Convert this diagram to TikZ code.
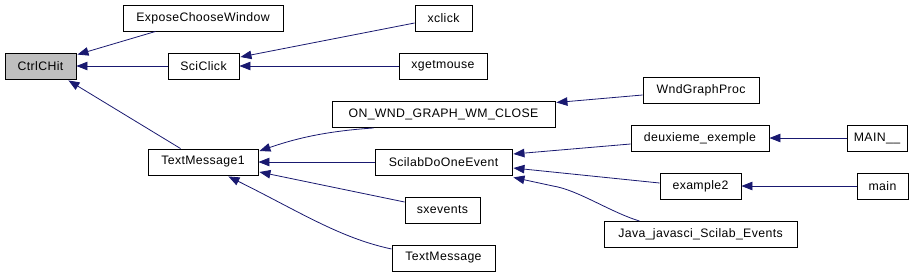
\documentclass[tikz,border=0pt]{standalone}
\usepackage{fontspec}
\setmainfont{Liberation Sans}[LetterSpace=3]
\usetikzlibrary{arrows.meta,calc}
\definecolor{edgeblue}{HTML}{191970}
\definecolor{hilite}{HTML}{BFBFBF}
\tikzset{
  fn/.style={draw=black, line width=0.9pt, fill=white, minimum height=26pt, inner sep=0pt, font=\fontsize{12.3}{14}\selectfont, anchor=center},
  cur/.style={fn, fill=hilite},
  call/.style={draw=edgeblue, line width=0.8pt, -{Triangle[length=11pt,width=8.5pt]}}
}
\begin{document}
\begin{tikzpicture}[x=1pt,y=-1pt]
\useasboundingbox (0,0) rectangle (922,274);
\node[cur, minimum width=71pt] (ctrl) at (40.5,66) {CtrlCHit};
\node[fn, minimum width=160pt] (expose) at (203,18) {ExposeChooseWindow};
\node[fn, minimum width=71pt] (sciclick) at (203.5,66) {SciClick};
\node[fn, minimum width=110pt] (tm1) at (203,162) {TextMessage1};
\node[fn, minimum width=57pt] (xclick) at (443.5,18) {xclick};
\node[fn, minimum width=88pt] (xgetmouse) at (443,66) {xgetmouse};
\node[fn, minimum width=223pt] (onwnd) at (443.5,114.5) {ON\_WND\_GRAPH\_WM\_CLOSE};
\node[fn, minimum width=137pt] (scilab) at (443.5,162) {ScilabDoOneEvent};
\node[fn, minimum width=75pt] (sxevents) at (442.5,210) {sxevents};
\node[fn, minimum width=103pt] (textmsg) at (443.5,258) {TextMessage};
\node[fn, minimum width=116pt] (wnd) at (701,90) {WndGraphProc};
\node[fn, minimum width=138pt] (deux) at (700,138) {deuxieme\_exemple};
\node[fn, minimum width=81pt] (ex2) at (700.5,186) {example2};
\node[fn, minimum width=193pt] (java) at (700.5,234.5) {Java\_javasci\_Scilab\_Events};
\node[fn, minimum width=60pt] (mainU) at (877,138) {MAIN\_\_};
\node[fn, minimum width=51pt] (mainl) at (882.5,186) {main};

\draw[call] ($(expose.south west)+(33,0)$) -- ($(ctrl.north east)+(1,2)$);
\draw[call] (sciclick.west) -- (ctrl.east);
\draw[call] ($(tm1.north west)+(33,0)$) -- ($(ctrl.south east)+(-8,1)$);
\draw[call] ($(xclick.west)+(0,5)$) -- ($(sciclick.east)+(1,-9)$);
\draw[call] (xgetmouse.west) -- (sciclick.east);
\draw[call] ($(onwnd.south west)+(42,0)$) .. controls (330,131) and (300,137) .. ($(tm1.east)+(1,-11)$);
\draw[call] (scilab.west) -- (tm1.east);
\draw[call] ($(sxevents.west)+(0,-8)$) -- ($(tm1.east)+(1,10)$);
\draw[call] ($(textmsg.west)+(0,-9)$) .. controls (340,238) and (300,212) .. ($(tm1.south east)+(-30,1)$);
\draw[call] ($(wnd.west)+(0,5)$) -- ($(onwnd.east)+(1,-12)$);
\draw[call] ($(deux.west)+(0,6)$) -- ($(scilab.east)+(1,-8)$);
\draw[call] ($(ex2.west)+(0,-3)$) -- ($(scilab.east)+(1,6)$);
\draw[call] ($(java.north west)+(36,0)$) .. controls (610,212) and (578,190) .. (553,186) -- ($(scilab.south east)+(1,2)$);
\draw[call] (mainU.west) -- (deux.east);
\draw[call] (mainl.west) -- (ex2.east);
\end{tikzpicture}
\end{document}
